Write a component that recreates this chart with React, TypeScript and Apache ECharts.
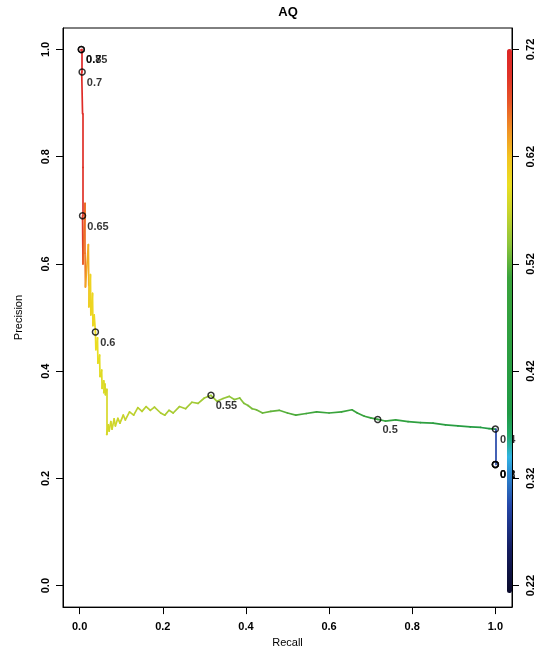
import React, { useEffect, useRef } from 'react';
import * as echarts from 'echarts';

// ---- Data ----
const recall = [
  0.002, 0.004, 0.005, 0.007, 0.007, 0.007, 0.008, 0.013, 0.013, 0.014,
  0.021, 0.022, 0.022, 0.026, 0.027, 0.031, 0.032, 0.035, 0.038, 0.039,
  0.043, 0.044, 0.048, 0.049, 0.053, 0.054, 0.057, 0.058, 0.061, 0.062,
  0.065, 0.065, 0.069, 0.071, 0.075, 0.078, 0.083, 0.086, 0.092, 0.097,
  0.105, 0.110, 0.120, 0.130, 0.140, 0.150, 0.160, 0.170, 0.180, 0.195,
  0.205, 0.215, 0.225, 0.240, 0.255, 0.270, 0.285, 0.300, 0.316, 0.330,
  0.345, 0.360, 0.372, 0.385, 0.395, 0.405, 0.415, 0.425, 0.440, 0.460,
  0.480, 0.500, 0.520, 0.545, 0.570, 0.600, 0.630, 0.655, 0.668, 0.685,
  0.700, 0.717, 0.735, 0.760, 0.790, 0.820, 0.850, 0.880, 0.910, 0.940,
  0.965, 0.985, 1.000, 1.000,
];
const precision = [
  1.000, 1.000, 0.958, 0.880, 0.780, 0.690, 0.600, 0.713, 0.620, 0.557,
  0.636, 0.560, 0.520, 0.580, 0.505, 0.545, 0.485, 0.505, 0.473, 0.440,
  0.462, 0.415, 0.430, 0.390, 0.402, 0.368, 0.382, 0.360, 0.376, 0.356,
  0.366, 0.282, 0.300, 0.288, 0.306, 0.292, 0.311, 0.298, 0.312, 0.303,
  0.318, 0.309, 0.324, 0.318, 0.332, 0.325, 0.334, 0.327, 0.333, 0.322,
  0.318, 0.327, 0.322, 0.334, 0.330, 0.342, 0.340, 0.350, 0.355, 0.344,
  0.349, 0.353, 0.347, 0.350, 0.340, 0.336, 0.330, 0.328, 0.322, 0.325,
  0.327, 0.322, 0.318, 0.321, 0.324, 0.322, 0.324, 0.328, 0.322, 0.316,
  0.313, 0.310, 0.307, 0.309, 0.306, 0.304, 0.303, 0.300, 0.298, 0.296,
  0.295, 0.293, 0.292, 0.226,
];
const threshold = [
  0.80, 0.75, 0.72, 0.71, 0.70, 0.695, 0.69, 0.665, 0.66, 0.655,
  0.635, 0.63, 0.625, 0.608, 0.606, 0.604, 0.603, 0.602, 0.600, 0.598,
  0.596, 0.594, 0.592, 0.590, 0.588, 0.587, 0.586, 0.585, 0.584, 0.583,
  0.582, 0.581, 0.580, 0.579, 0.578, 0.577, 0.576, 0.575, 0.574, 0.573,
  0.571, 0.570, 0.568, 0.566, 0.564, 0.563, 0.562, 0.561, 0.560, 0.558,
  0.557, 0.556, 0.555, 0.554, 0.553, 0.552, 0.551, 0.5505, 0.550, 0.548,
  0.546, 0.544, 0.542, 0.540, 0.538, 0.536, 0.534, 0.532, 0.530, 0.527,
  0.524, 0.521, 0.518, 0.515, 0.512, 0.509, 0.506, 0.504, 0.503, 0.502,
  0.501, 0.500, 0.49, 0.48, 0.47, 0.46, 0.45, 0.44, 0.43, 0.42,
  0.41, 0.405, 0.400, 0.30,
];

const markRecall = [0.004, 0.004, 0.006, 0.007, 0.038, 0.316, 0.717, 1.0, 1.0, 1.0, 1.0];
const markPrecision = [1.0, 1.0, 0.958, 0.69, 0.473, 0.355, 0.31, 0.292, 0.226, 0.226, 0.226];
const markLabels = ['0.8', '0.75', '0.7', '0.65', '0.6', '0.55', '0.5', '0.4', '0.3', '0.2', '0.1'];

const axisTicks = [0, 0.2, 0.4, 0.6, 0.8, 1.0];
const colorTickLabels = ['0.22', '0.32', '0.42', '0.52', '0.62', '0.72'];
const colorMin = 0.22;
const colorMax = 0.72;

// ---- Styling ----
const FONT = '"Liberation Sans", Arial, Helvetica, sans-serif';
const STOPS: [number, string][] = [
  [0.0, '#0a0a2a'],
  [0.08, '#141c60'],
  [0.16, '#2446a8'],
  [0.22, '#2c8ad0'],
  [0.25, '#30b4e4'],
  [0.29, '#20a868'],
  [0.33, '#1f9a45'],
  [0.58, '#3aa43c'],
  [0.64, '#8cc43a'],
  [0.70, '#c8d42c'],
  [0.75, '#eade22'],
  [0.80, '#f2c420'],
  [0.85, '#f09224'],
  [0.90, '#e85828'],
  [0.95, '#e03228'],
  [1.0, '#de2626'],
];

function hexToRgb(h: string) {
  const n = parseInt(h.slice(1), 16);
  return [(n >> 16) & 255, (n >> 8) & 255, n & 255];
}
function colorAtFrac(f: number) {
  const t = Math.max(0, Math.min(1, f));
  for (let i = 0; i < STOPS.length - 1; i++) {
    const [a, ca] = STOPS[i];
    const [b, cb] = STOPS[i + 1];
    if (t >= a && t <= b) {
      const k = b === a ? 0 : (t - a) / (b - a);
      const A = hexToRgb(ca);
      const B = hexToRgb(cb);
      const c = A.map((v, j) => Math.round(v + (B[j] - v) * k));
      return `rgb(${c[0]},${c[1]},${c[2]})`;
    }
  }
  return STOPS[STOPS.length - 1][1];
}
function colorAt(th: number) {
  return colorAtFrac((th - colorMin) / (colorMax - colorMin));
}

export default function App() {
  const ref = useRef<HTMLDivElement>(null);
  useEffect(() => {
    if (!ref.current) return;
    const chart = echarts.init(ref.current, undefined, { renderer: 'svg' });

    const segments = [] as any[];
    for (let i = 0; i < recall.length - 1; i++) {
      segments.push({
        coords: [
          [recall[i], precision[i]],
          [recall[i + 1], precision[i + 1]],
        ],
        lineStyle: { color: colorAt(threshold[i + 1]) },
      });
    }
    const barColors: string[] = [];
    for (let i = 0; i <= 100; i++) barColors.push(colorAtFrac(i / 100));

    const axisCommon = {
      type: 'value' as const,
      min: -0.04,
      max: 1.04,
      splitLine: { show: false },
      axisLine: { show: true, onZero: false, lineStyle: { color: '#000', width: 1 } },
      axisTick: { show: true, length: 7, customValues: axisTicks, lineStyle: { color: '#000', width: 1 } },
    };
    const labelStyle = { fontFamily: FONT, fontSize: 11, fontWeight: 'bold' as const, color: '#000' };
    const nameStyle = { fontFamily: FONT, fontSize: 11, color: '#000' };

    chart.setOption({
      animation: false,
      title: {
        text: 'AQ',
        left: 288,
        top: 5,
        padding: 0,
        textAlign: 'center',
        textStyle: { fontFamily: FONT, fontSize: 13, fontWeight: 'bold', color: '#000' },
      },
      grid: { left: 63, right: 36, top: 28, bottom: 37, show: true, borderColor: '#000', borderWidth: 1 },
      xAxis: {
        ...axisCommon,
        name: 'Recall',
        nameLocation: 'middle',
        nameGap: 26,
        nameTextStyle: nameStyle,
        axisLabel: { ...labelStyle, customValues: axisTicks, margin: 13, formatter: (v: number) => v.toFixed(1) },
      },
      yAxis: [
        {
          ...axisCommon,
          position: 'left',
          name: 'Precision',
          nameLocation: 'middle',
          nameGap: 40,
          nameTextStyle: nameStyle,
          axisLabel: { ...labelStyle, rotate: 90, customValues: axisTicks, margin: 13, formatter: (v: number) => v.toFixed(1) },
        },
        {
          ...axisCommon,
          position: 'right',
          axisLabel: {
            ...labelStyle,
            rotate: 90,
            customValues: axisTicks,
            margin: 12,
            formatter: (v: number) => colorTickLabels[Math.round(v * 5)] ?? '',
          },
        },
      ],
      visualMap: {
        type: 'continuous',
        min: colorMin,
        max: colorMax,
        seriesIndex: 2,
        dimension: 0,
        left: 507,
        top: 49,
        itemWidth: 5,
        itemHeight: 544,
        padding: 0,
        calculable: false,
        hoverLink: false,
        inRange: { color: barColors },
        z: 10,
      },
      series: [
        {
          type: 'lines',
          coordinateSystem: 'cartesian2d',
          xAxisIndex: 0,
          yAxisIndex: 0,
          polyline: false,
          silent: true,
          lineStyle: { width: 1.7, opacity: 1, curveness: 0, cap: 'round' },
          data: segments,
          z: 2,
        },
        {
          type: 'scatter',
          xAxisIndex: 0,
          yAxisIndex: 0,
          symbol: 'circle',
          symbolSize: 6,
          silent: true,
          itemStyle: { color: 'rgba(255,255,255,0)', borderColor: '#000', borderWidth: 1.5 },
          label: {
            show: true,
            position: 'right',
            distance: 1,
            offset: [0, 10],
            formatter: (p: any) => markLabels[p.dataIndex],
            ...labelStyle,
          },
          data: markRecall.map((r, i) => [r, markPrecision[i]]),
          z: 3,
        },
        { type: 'scatter', xAxisIndex: 0, yAxisIndex: 0, data: [], silent: true },
      ],
    });
    return () => chart.dispose();
  }, []);
  return <div ref={ref} style={{ position: 'fixed', left: 0, top: 0, width: 548, height: 652 }} />;
}
